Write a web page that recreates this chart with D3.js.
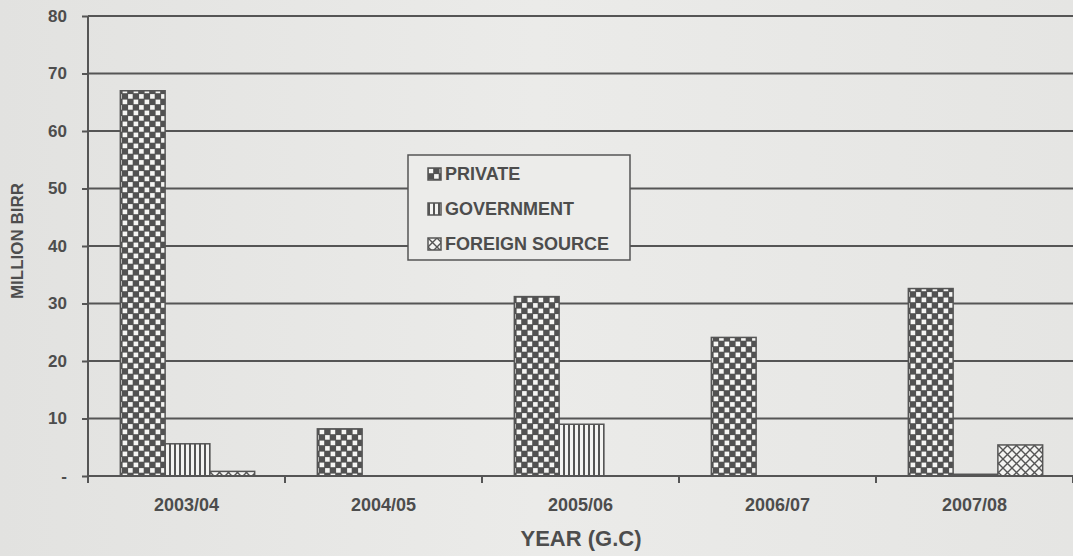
<!DOCTYPE html>
<meta charset="utf-8">
<style>
body { margin: 0; background: #e9e9e7; }
text { font-family: "Liberation Sans", Arial, sans-serif; font-weight: bold; fill: #4d4d4d; }
</style>
<svg width="1073" height="556"></svg>
<script src="https://cdn.jsdelivr.net/npm/d3@7/dist/d3.min.js"></script>
<script>
var years = ["2003/04", "2004/05", "2005/06", "2006/07", "2007/08"];
var series = ["PRIVATE", "GOVERNMENT", "FOREIGN SOURCE"];
var privateVals = [67, 8.2, 31.2, 24.1, 32.6];
var governmentVals = [5.6, 0, 9.0, 0, 0.3];
var foreignVals = [0.8, 0, 0, 0, 5.4];
var yTicks = [0, 10, 20, 30, 40, 50, 60, 70, 80];

var svg = d3.select("svg"),
    width = +svg.attr("width"),
    height = +svg.attr("height");

var ink = "#555";
var margin = {top: 16, right: 0, bottom: 80, left: 88};

// paper background
var bg = svg.append("defs");
var grad = bg.append("linearGradient").attr("id", "paper").attr("x1", 0).attr("x2", 1);
grad.append("stop").attr("offset", "0").attr("stop-color", "#e2e2e0");
grad.append("stop").attr("offset", "0.5").attr("stop-color", "#ebebe9");
grad.append("stop").attr("offset", "1").attr("stop-color", "#e5e5e3");
svg.append("rect").attr("width", width).attr("height", height).attr("fill", "url(#paper)");

// fill patterns
var p1 = bg.append("pattern").attr("id", "checker").attr("patternUnits", "userSpaceOnUse")
    .attr("width", 11).attr("height", 11);
p1.append("rect").attr("width", 11).attr("height", 11).attr("fill", "#525252");
p1.append("rect").attr("x", 0.6).attr("y", 0.6).attr("width", 4.6).attr("height", 4.6).attr("fill", "#f6f6f4");
p1.append("rect").attr("x", 6.1).attr("y", 6.1).attr("width", 4.6).attr("height", 4.6).attr("fill", "#f6f6f4");

var p2 = bg.append("pattern").attr("id", "vstripe").attr("patternUnits", "userSpaceOnUse")
    .attr("width", 5).attr("height", 5);
p2.append("rect").attr("width", 5).attr("height", 5).attr("fill", "#f4f4f2");
p2.append("rect").attr("width", 2).attr("height", 5).attr("fill", ink);

var p3 = bg.append("pattern").attr("id", "xhatch").attr("patternUnits", "userSpaceOnUse")
    .attr("width", 9).attr("height", 9);
p3.append("rect").attr("width", 9).attr("height", 9).attr("fill", "#f4f4f2");
p3.append("path").attr("d", "M0,0L9,9M9,0L0,9").attr("stroke", ink).attr("stroke-width", 1.4);

var fills = ["url(#checker)", "url(#vstripe)", "url(#xhatch)"];

var x = d3.scaleBand().domain(years)
    .range([margin.left, width]).paddingInner(0).paddingOuter(0);
var xs = d3.scaleBand().domain(series)
    .range([0, x.bandwidth()]).paddingInner(0).paddingOuter(0.7);
var y = d3.scaleLinear().domain([0, 80]).range([height - margin.bottom, margin.top]);

// gridlines
svg.append("g").selectAll("line").data(yTicks.slice(1)).enter().append("line")
    .attr("x1", margin.left).attr("x2", width)
    .attr("y1", function(d) { return y(d); }).attr("y2", function(d) { return y(d); })
    .attr("stroke", ink).attr("stroke-width", 2);

// y axis
var yAxis = svg.append("g").attr("transform", "translate(" + margin.left + ",0)")
    .call(d3.axisLeft(y).tickValues(yTicks).tickSize(6).tickPadding(15)
        .tickFormat(function(d) { return d == 0 ? "-" : d; }));
yAxis.selectAll("line, path").attr("stroke", ink).attr("stroke-width", 2);
yAxis.select(".domain").attr("d", "M0," + y(80) + "V" + y(0));
yAxis.selectAll("text").style("font-size", "17px").attr("fill", "#4d4d4d");

// bars
var data = years.map(function(yr, i) {
  return {year: yr, vals: [privateVals[i], governmentVals[i], foreignVals[i]]};
});
var groups = svg.append("g").selectAll("g").data(data).enter().append("g")
    .attr("transform", function(d) { return "translate(" + (x(d.year) + 1) + ",0)"; });
groups.selectAll("rect").data(function(d) {
    return d.vals.map(function(v, j) { return {s: series[j], v: v, j: j}; });
  }).enter().append("rect")
    .filter(function(d) { return d.v > 0; })
    .attr("x", function(d) { return xs(d.s); })
    .attr("width", xs.bandwidth())
    .attr("y", function(d) { return y(d.v); })
    .attr("height", function(d) { return y(0) - y(d.v); })
    .attr("fill", function(d) { return fills[d.j]; })
    .attr("stroke", ink).attr("stroke-width", 1.5);

// x axis
var xAxis = svg.append("g").attr("transform", "translate(0," + y(0) + ")")
    .call(d3.axisBottom(x).tickSize(0).tickPadding(22));
xAxis.select(".domain").attr("stroke", ink).attr("stroke-width", 2)
    .attr("d", "M" + margin.left + ",0H" + width);
xAxis.selectAll("text").style("font-size", "18px").attr("fill", "#4d4d4d");
svg.append("g").selectAll("line").data(years.concat(["end"])).enter().append("line")
    .attr("x1", function(d, i) { return margin.left + i * x.step(); })
    .attr("x2", function(d, i) { return margin.left + i * x.step(); })
    .attr("y1", y(0)).attr("y2", y(0) + 7)
    .attr("stroke", ink).attr("stroke-width", 2);

// axis titles
svg.append("text").attr("x", 581).attr("y", 546)
    .attr("text-anchor", "middle").style("font-size", "22px").text("YEAR (G.C)");
svg.append("text").attr("transform", "translate(23,241) rotate(-90)")
    .attr("text-anchor", "middle").style("font-size", "17px").text("MILLION BIRR");

// legend
var lg = svg.append("g").attr("transform", "translate(408,155)");
lg.append("rect").attr("width", 222).attr("height", 105)
    .attr("fill", "#ececea").attr("stroke", ink).attr("stroke-width", 1.5);
var item = lg.selectAll("g").data(series).enter().append("g")
    .attr("transform", function(d, i) { return "translate(20," + (13 + i * 35) + ")"; });
item.append("rect").attr("width", 13).attr("height", 12)
    .attr("fill", function(d, i) { return fills[i]; })
    .attr("stroke", ink).attr("stroke-width", 1.5);
item.append("text").attr("x", 17).attr("y", 12).style("font-size", "18px")
    .text(function(d) { return d; });
</script>
